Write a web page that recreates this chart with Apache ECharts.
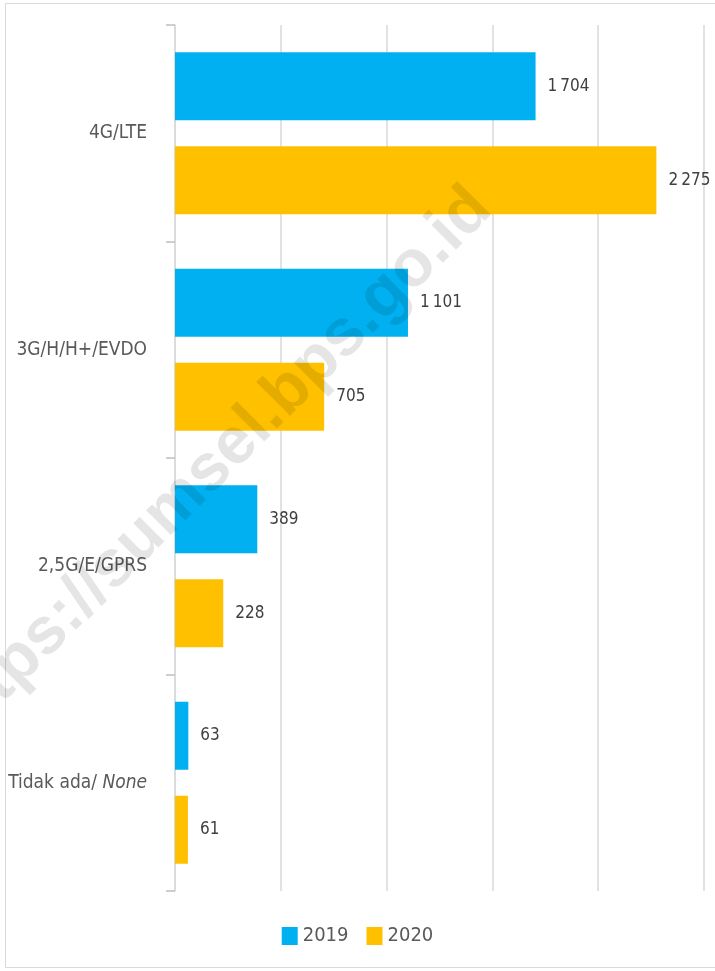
<!DOCTYPE html>
<html>
<head>
<meta charset="utf-8">
<script src="https://cdn.jsdelivr.net/npm/echarts@6/dist/echarts.min.js"></script>
<style>
  html, body { margin: 0; padding: 0; background: #fff; }
  #chart { width: 715px; height: 971px; }
</style>
</head>
<body>
<div id="chart"></div>
<script>
const categories = ["4G/LTE", "3G/H/H+/EVDO", "2,5G/E/GPRS", "Tidak ada/ {i|None}"];
const values2019 = [1704, 1101, 389, 63];
const values2020 = [2275, 705, 228, 61];
const seriesNames = ["2019", "2020"];

const FONT = "'Liberation Sans Narrow', 'DejaVu Sans Condensed', sans-serif";

// thousands with a thin space, like "1 704"
const fmt = (v) => String(v).replace(/\B(?=(\d{3})+(?!\d))/g, "\u2009");

const chart = echarts.init(document.getElementById("chart"));

const barStyle = {
  type: "bar",
  barWidth: "31.4%",
  barGap: "38%",
  label: {
    show: true,
    position: "right",
    distance: 12,
    color: "#404040",
    fontFamily: FONT,
    fontSize: 17,
    formatter: (p) => fmt(p.value),
  },
};

chart.setOption({
  animation: false,
  color: ["#00B0F0", "#FFC000"],
  graphic: [
    {
      type: "rect",
      shape: { x: 5.5, y: 3.5, width: 720, height: 964 },
      style: { fill: "none", stroke: "#d9d9d9", lineWidth: 1 },
      z: 0,
    },
    {
      // watermark
      type: "text",
      x: 213,
      y: 467,
      rotation: (45 * Math.PI) / 180,
      style: {
        text: "https://sumsel.bps.go.id",
        fontFamily: "'Liberation Sans', Arial, sans-serif",
        fontWeight: "bold",
        fontSize: 66,
        fill: "rgba(0,0,0,0.1)",
        align: "center",
        verticalAlign: "middle",
      },
      z: 100,
    },
  ],
  grid: { left: 175, right: 11, top: 25, bottom: 80 },
  legend: {
    bottom: 20,
    left: "center",
    itemWidth: 16,
    itemHeight: 18,
    itemGap: 18,
    icon: "rect",
    textStyle: { color: "#595959", fontFamily: FONT, fontSize: 20 },
    data: seriesNames,
  },
  xAxis: {
    type: "value",
    min: 0,
    max: 2500,
    interval: 500,
    axisLabel: { show: false },
    axisLine: { show: false },
    axisTick: { show: false },
    splitLine: { lineStyle: { color: "#d9d9d9", width: 1.5 } },
  },
  yAxis: {
    type: "category",
    inverse: true,
    data: categories,
    axisLine: { lineStyle: { color: "#d9d9d9", width: 1.5 } },
    axisTick: { show: true, length: 9, lineStyle: { color: "#bfbfbf", width: 1.5 } },
    axisLabel: {
      margin: 28,
      color: "#595959",
      fontFamily: FONT,
      fontSize: 19,
      rich: {
        i: { fontStyle: "italic", color: "#595959", fontFamily: FONT, fontSize: 19 },
      },
    },
  },
  series: [
    Object.assign({}, barStyle, { name: seriesNames[0], data: values2019 }),
    Object.assign({}, barStyle, { name: seriesNames[1], data: values2020 }),
  ],
});
</script>
</body>
</html>
